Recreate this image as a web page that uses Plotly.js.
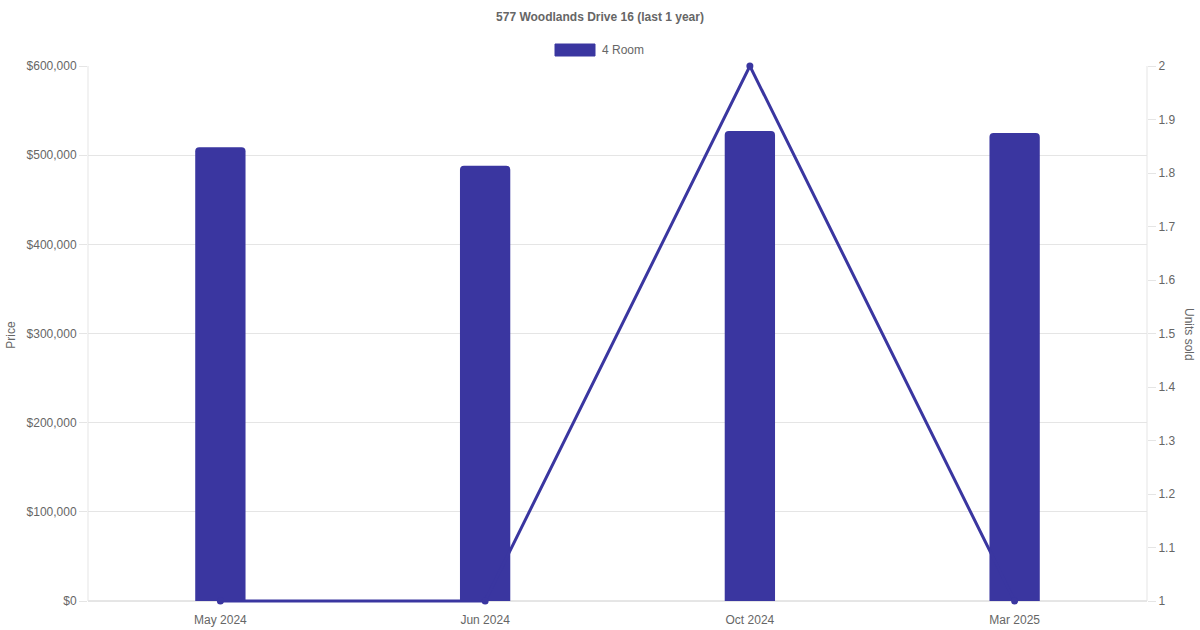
<!DOCTYPE html>
<html>
<head>
<meta charset="utf-8">
<script src="https://cdn.plot.ly/plotly-3.0.1.min.js"></script>
<style>
  body { margin: 0; background: #fff; }
  #chart { width: 1200px; height: 630px; }
</style>
</head>
<body>
<div id="chart"></div>
<script>
// data
const months = ['May 2024', 'Jun 2024', 'Oct 2024', 'Mar 2025'];
const prices = [509000, 488000, 527000, 525000];
const unitsSold = [1, 1, 2, 1];
const priceTicks = [0, 100000, 200000, 300000, 400000, 500000, 600000];
const unitTicks = [1, 1.1, 1.2, 1.3, 1.4, 1.5, 1.6, 1.7, 1.8, 1.9, 2];

const purple = '#3a36a0';
const grey = '#666';
const gridCol = '#e5e5e5';
const fontFam = '"Liberation Sans", Arial, sans-serif';

// plot area: 66px (top) to 601px (axis zero), plus 3px below so the
// bottom line is not clipped in half
const pxSpan = 535;
const padPx = 3;
const priceMax = 600000;
const pricePad = priceMax * padPx / pxSpan;
const unitPad = 1 * padPx / pxSpan;

// price bars
let barTrace =
{
  name: '4 Room',
  x: months,
  y: prices,
  type: 'bar',
  width: 0.19,
  marker: { color: purple, cornerradius: 4, line: { width: 0 } },
  yaxis: 'y',
  hoverinfo: 'x+y'
};

// units sold line, on the right axis
let lineTrace =
{
  name: 'Units sold',
  x: months,
  y: unitsSold,
  type: 'scatter',
  mode: 'lines+markers',
  line: { color: purple, width: 3 },
  marker: { color: purple, size: 7 },
  yaxis: 'y2',
  cliponaxis: false,
  showlegend: false
};

const plotH = pxSpan + padPx;
const py = (px) => (601 + padPx - px) / plotH;   // pixel row -> paper y
const plotW = 1059;
const pxx = (px) => (px - 88) / plotW;           // pixel col -> paper x

let layout =
{
  width: 1200,
  height: 630,
  margin: { l: 88, r: 53, t: 66, b: 29 - padPx },
  paper_bgcolor: '#fff',
  plot_bgcolor: '#fff',
  font: { family: fontFam, size: 12, color: grey },
  showlegend: false,
  title:
  {
    text: '<b>577 Woodlands Drive 16 (last 1 year)</b>',
    font: { family: fontFam, size: 12, color: grey },
    x: 0.5, xanchor: 'center',
    y: 0.973, yanchor: 'middle'
  },
  xaxis:
  {
    type: 'category',
    range: [-0.5, 3.5],
    showgrid: false,
    showline: false,
    zeroline: false,
    ticks: '',
    tickfont: { size: 12, color: grey },
    ticklabelstandoff: 7
  },
  yaxis:
  {
    range: [-pricePad, priceMax],
    tickvals: priceTicks,
    ticktext: priceTicks.map(v => '$' + v.toLocaleString('en-US')),
    showgrid: true,
    gridcolor: gridCol,
    zeroline: false,
    showline: false,
    ticks: 'outside',
    ticklen: 8,
    tickcolor: gridCol,
    tickfont: { size: 12, color: grey },
    title: { text: 'Price', font: { size: 12, color: grey }, standoff: 8 }
  },
  yaxis2:
  {
    overlaying: 'y',
    side: 'right',
    range: [1 - unitPad, 2],
    tickvals: unitTicks,
    ticktext: unitTicks.map(v => String(v)),
    showgrid: false,
    zeroline: false,
    showline: false,
    ticks: 'outside',
    ticklen: 8,
    tickcolor: gridCol,
    tickfont: { size: 12, color: grey }
  },
  shapes:
  [
    // left and right axis lines
    { type: 'line', xref: 'paper', yref: 'paper', x0: 0, x1: 0, y0: py(601), y1: 1,
      line: { color: gridCol, width: 1 } },
    { type: 'line', xref: 'paper', yref: 'paper', x0: 1, x1: 1, y0: py(601), y1: 1,
      line: { color: gridCol, width: 1 } },
    // baseline
    { type: 'line', xref: 'paper', yref: 'y', x0: 0, x1: 1, y0: 0, y1: 0,
      line: { color: '#ccc', width: 1 }, layer: 'below' },
    // legend box
    { type: 'rect', xref: 'paper', yref: 'paper',
      x0: pxx(555), x1: pxx(595), y0: py(56), y1: py(44),
      fillcolor: purple, line: { color: purple, width: 1 } }
  ],
  annotations:
  [
    { text: '4 Room', xref: 'paper', yref: 'paper',
      x: pxx(600), y: py(50),
      xanchor: 'left', yanchor: 'middle', showarrow: false,
      font: { size: 12, color: grey } },
    // right axis title reads top to bottom
    { text: 'Units sold', xref: 'paper', yref: 'paper',
      x: pxx(1189), y: py(334), textangle: 90,
      xanchor: 'center', yanchor: 'middle', showarrow: false,
      font: { size: 12, color: grey } }
  ]
};

Plotly.newPlot('chart', [barTrace, lineTrace], layout, { displayModeBar: false, staticPlot: true });
</script>
</body>
</html>
